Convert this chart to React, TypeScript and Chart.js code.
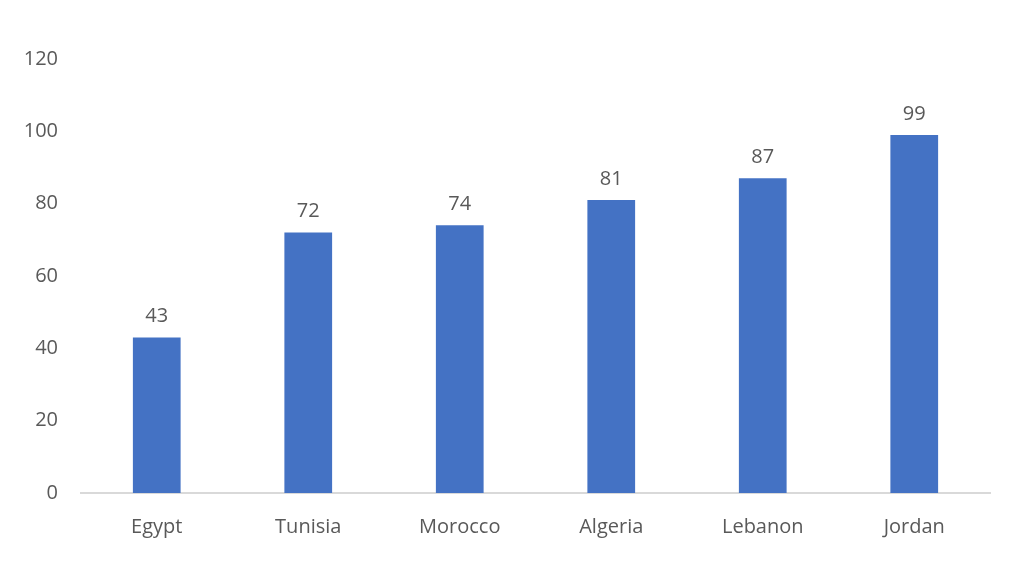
import React, { useEffect, useRef } from "react";
import Chart from "chart.js/auto";

const countries = ["Egypt", "Tunisia", "Morocco", "Algeria", "Lebanon", "Jordan"];
const scores = [43, 72, 74, 81, 87, 99];
const yTicks = [0, 20, 40, 60, 80, 100, 120];

const textColor = "#595959";
const fontFamily = "'Open Sans', 'Noto Sans', sans-serif";

// draws the number above every bar
const valueLabels = {
  id: "valueLabels",
  afterDatasetsDraw(chart: any) {
    const ctx = chart.ctx;
    const meta = chart.getDatasetMeta(0);
    ctx.save();
    ctx.font = `20px ${fontFamily}`;
    ctx.fillStyle = textColor;
    ctx.textAlign = "center";
    ctx.textBaseline = "bottom";
    meta.data.forEach((bar: any, i: number) => {
      ctx.fillText(String(scores[i]), bar.x, bar.y - 11);
    });
    ctx.restore();
  },
};

const App: React.FC = () => {
  const chartRef = useRef<HTMLCanvasElement | null>(null);
  const chartInstance = useRef<Chart | null>(null);

  useEffect(() => {
    if (!chartRef.current) return;
    const ctx = chartRef.current.getContext("2d");
    if (!ctx) return;

    if (chartInstance.current) {
      chartInstance.current.destroy();
    }

    chartInstance.current = new Chart(ctx, {
      type: "bar",
      data: {
        labels: countries,
        datasets: [
          {
            data: scores,
            backgroundColor: "#4472C4",
            barPercentage: 0.63,
            categoryPercentage: 0.5,
          },
        ],
      },
      options: {
        animation: false,
        responsive: true,
        maintainAspectRatio: false,
        layout: { padding: { top: 59, right: 34, bottom: 0, left: 0 } },
        plugins: {
          legend: { display: false },
          tooltip: { enabled: false },
        },
        scales: {
          x: {
            grid: { display: false, drawTicks: false },
            border: { display: true, color: "#d9d9d9", width: 2 },
            ticks: {
              color: textColor,
              font: { family: fontFamily, size: 20 },
              padding: 22,
            },
            afterFit: (scale: any) => {
              scale.height = 74;
            },
          },
          y: {
            min: 0,
            max: 120,
            grid: { display: false, drawTicks: false },
            border: { display: false },
            afterBuildTicks: (scale: any) => {
              scale.ticks = yTicks.map((v) => ({ value: v }));
            },
            ticks: {
              color: textColor,
              font: { family: fontFamily, size: 20 },
              padding: 23,
            },
            afterFit: (scale: any) => {
              scale.width = 81;
            },
          },
        },
      },
      plugins: [valueLabels],
    });

    return () => {
      if (chartInstance.current) {
        chartInstance.current.destroy();
        chartInstance.current = null;
      }
    };
  }, []);

  return (
    <div style={{ position: "fixed", left: 0, top: 0, width: 1024, height: 567, background: "#fff" }}>
      <canvas ref={chartRef}></canvas>
    </div>
  );
};

export default App;
